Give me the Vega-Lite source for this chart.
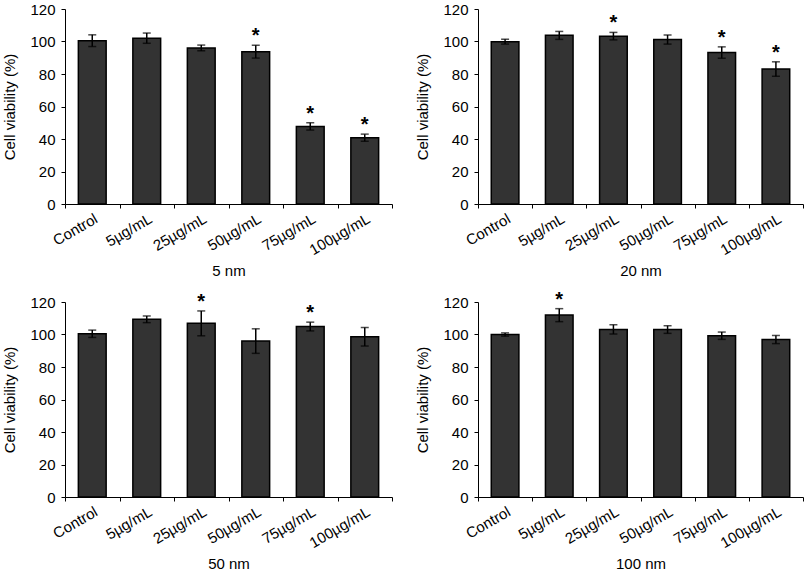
{
  "$schema": "https://vega.github.io/schema/vega-lite/v6.json",
  "background": "white",
  "padding": {"left": 2, "top": 2, "right": 0, "bottom": 0},
  "datasets": {
    "cells": [
      {"panel": "5 nm", "group": "Control", "mean": 100.5, "lo": 96.9, "hi": 104.1, "sig": false},
      {"panel": "5 nm", "group": "5µg/mL", "mean": 102, "lo": 98.9, "hi": 105.2, "sig": false},
      {"panel": "5 nm", "group": "25µg/mL", "mean": 96, "lo": 94.3, "hi": 97.8, "sig": false},
      {"panel": "5 nm", "group": "50µg/mL", "mean": 93.7, "lo": 89.8, "hi": 97.7, "sig": true},
      {"panel": "5 nm", "group": "75µg/mL", "mean": 47.7, "lo": 45.5, "hi": 50, "sig": true},
      {"panel": "5 nm", "group": "100µg/mL", "mean": 40.8, "lo": 38.6, "hi": 43, "sig": true},
      {"panel": "20 nm", "group": "Control", "mean": 99.9, "lo": 98.4, "hi": 101.4, "sig": false},
      {"panel": "20 nm", "group": "5µg/mL", "mean": 103.8, "lo": 101.3, "hi": 106.2, "sig": false},
      {"panel": "20 nm", "group": "25µg/mL", "mean": 103.3, "lo": 101, "hi": 105.6, "sig": true},
      {"panel": "20 nm", "group": "50µg/mL", "mean": 101.2, "lo": 98.4, "hi": 104, "sig": false},
      {"panel": "20 nm", "group": "75µg/mL", "mean": 93.2, "lo": 89.7, "hi": 96.7, "sig": true},
      {"panel": "20 nm", "group": "100µg/mL", "mean": 83.1, "lo": 78.6, "hi": 87.5, "sig": true},
      {"panel": "50 nm", "group": "Control", "mean": 100.4, "lo": 98.2, "hi": 102.7, "sig": false},
      {"panel": "50 nm", "group": "5µg/mL", "mean": 109.4, "lo": 107.3, "hi": 111.4, "sig": false},
      {"panel": "50 nm", "group": "25µg/mL", "mean": 106.9, "lo": 99.2, "hi": 114.5, "sig": true},
      {"panel": "50 nm", "group": "50µg/mL", "mean": 96, "lo": 88.4, "hi": 103.5, "sig": false},
      {"panel": "50 nm", "group": "75µg/mL", "mean": 104.9, "lo": 102.2, "hi": 107.6, "sig": true},
      {"panel": "50 nm", "group": "100µg/mL", "mean": 98.6, "lo": 92.9, "hi": 104.3, "sig": false},
      {"panel": "100 nm", "group": "Control", "mean": 100, "lo": 99, "hi": 101, "sig": false},
      {"panel": "100 nm", "group": "5µg/mL", "mean": 112, "lo": 107.9, "hi": 115.9, "sig": true},
      {"panel": "100 nm", "group": "25µg/mL", "mean": 103.1, "lo": 100.3, "hi": 106, "sig": false},
      {"panel": "100 nm", "group": "50µg/mL", "mean": 103.1, "lo": 100.7, "hi": 105.4, "sig": false},
      {"panel": "100 nm", "group": "75µg/mL", "mean": 99.2, "lo": 97, "hi": 101.5, "sig": false},
      {"panel": "100 nm", "group": "100µg/mL", "mean": 97, "lo": 94.4, "hi": 99.4, "sig": false}
    ]
  },
  "data": {"name": "cells"},
  "columns": 2,
  "spacing": {"column": 22, "row": 10},
  "concat": [
    {
      "width": 327, "height": 195,
      "transform": [{"filter": "datum.panel == '5 nm'"}],
      "encoding": {"x": {"field": "group", "type": "nominal", "sort": ["Control", "5µg/mL", "25µg/mL", "50µg/mL", "75µg/mL", "100µg/mL"], "scale": {"paddingInner": 0, "paddingOuter": 0}, "axis": {"title": "5 nm"}}},
      "layer": [
        {"mark": {"type": "bar", "width": {"band": 0.51}, "fill": "#333333", "stroke": "#000000", "strokeWidth": 1.5}, "encoding": {"y": {"field": "mean", "type": "quantitative", "scale": {"domain": [0, 120]}, "axis": {"title": "Cell viability (%)", "values": [0, 20, 40, 60, 80, 100, 120]}}}},
        {"mark": {"type": "errorbar", "ticks": {"size": 8, "thickness": 1.5, "color": "#000000"}, "thickness": 1.5, "color": "#000000"}, "encoding": {"y": {"field": "lo", "type": "quantitative", "axis": {"title": "Cell viability (%)", "values": [0, 20, 40, 60, 80, 100, 120]}}, "y2": {"field": "hi"}}},
        {"transform": [{"filter": "datum.sig"}], "mark": {"type": "text", "text": "*", "fontSize": 20, "fontWeight": "bold", "baseline": "alphabetic", "dy": -3, "color": "#000000"}, "encoding": {"y": {"field": "hi", "type": "quantitative", "axis": {"title": "Cell viability (%)", "values": [0, 20, 40, 60, 80, 100, 120]}}}}
      ]
    },
    {
      "width": 325, "height": 195,
      "transform": [{"filter": "datum.panel == '20 nm'"}],
      "encoding": {"x": {"field": "group", "type": "nominal", "sort": ["Control", "5µg/mL", "25µg/mL", "50µg/mL", "75µg/mL", "100µg/mL"], "scale": {"paddingInner": 0, "paddingOuter": 0}, "axis": {"title": "20 nm"}}},
      "layer": [
        {"mark": {"type": "bar", "width": {"band": 0.51}, "fill": "#333333", "stroke": "#000000", "strokeWidth": 1.5}, "encoding": {"y": {"field": "mean", "type": "quantitative", "scale": {"domain": [0, 120]}, "axis": {"title": "Cell viability (%)", "values": [0, 20, 40, 60, 80, 100, 120]}}}},
        {"mark": {"type": "errorbar", "ticks": {"size": 8, "thickness": 1.5, "color": "#000000"}, "thickness": 1.5, "color": "#000000"}, "encoding": {"y": {"field": "lo", "type": "quantitative", "axis": {"title": "Cell viability (%)", "values": [0, 20, 40, 60, 80, 100, 120]}}, "y2": {"field": "hi"}}},
        {"transform": [{"filter": "datum.sig"}], "mark": {"type": "text", "text": "*", "fontSize": 20, "fontWeight": "bold", "baseline": "alphabetic", "dy": -3, "color": "#000000"}, "encoding": {"y": {"field": "hi", "type": "quantitative", "axis": {"title": "Cell viability (%)", "values": [0, 20, 40, 60, 80, 100, 120]}}}}
      ]
    },
    {
      "width": 327, "height": 195,
      "transform": [{"filter": "datum.panel == '50 nm'"}],
      "encoding": {"x": {"field": "group", "type": "nominal", "sort": ["Control", "5µg/mL", "25µg/mL", "50µg/mL", "75µg/mL", "100µg/mL"], "scale": {"paddingInner": 0, "paddingOuter": 0}, "axis": {"title": "50 nm"}}},
      "layer": [
        {"mark": {"type": "bar", "width": {"band": 0.51}, "fill": "#333333", "stroke": "#000000", "strokeWidth": 1.5}, "encoding": {"y": {"field": "mean", "type": "quantitative", "scale": {"domain": [0, 120]}, "axis": {"title": "Cell viability (%)", "values": [0, 20, 40, 60, 80, 100, 120]}}}},
        {"mark": {"type": "errorbar", "ticks": {"size": 8, "thickness": 1.5, "color": "#000000"}, "thickness": 1.5, "color": "#000000"}, "encoding": {"y": {"field": "lo", "type": "quantitative", "axis": {"title": "Cell viability (%)", "values": [0, 20, 40, 60, 80, 100, 120]}}, "y2": {"field": "hi"}}},
        {"transform": [{"filter": "datum.sig"}], "mark": {"type": "text", "text": "*", "fontSize": 20, "fontWeight": "bold", "baseline": "alphabetic", "dy": -3, "color": "#000000"}, "encoding": {"y": {"field": "hi", "type": "quantitative", "axis": {"title": "Cell viability (%)", "values": [0, 20, 40, 60, 80, 100, 120]}}}}
      ]
    },
    {
      "width": 325, "height": 195,
      "transform": [{"filter": "datum.panel == '100 nm'"}],
      "encoding": {"x": {"field": "group", "type": "nominal", "sort": ["Control", "5µg/mL", "25µg/mL", "50µg/mL", "75µg/mL", "100µg/mL"], "scale": {"paddingInner": 0, "paddingOuter": 0}, "axis": {"title": "100 nm"}}},
      "layer": [
        {"mark": {"type": "bar", "width": {"band": 0.51}, "fill": "#333333", "stroke": "#000000", "strokeWidth": 1.5}, "encoding": {"y": {"field": "mean", "type": "quantitative", "scale": {"domain": [0, 120]}, "axis": {"title": "Cell viability (%)", "values": [0, 20, 40, 60, 80, 100, 120]}}}},
        {"mark": {"type": "errorbar", "ticks": {"size": 8, "thickness": 1.5, "color": "#000000"}, "thickness": 1.5, "color": "#000000"}, "encoding": {"y": {"field": "lo", "type": "quantitative", "axis": {"title": "Cell viability (%)", "values": [0, 20, 40, 60, 80, 100, 120]}}, "y2": {"field": "hi"}}},
        {"transform": [{"filter": "datum.sig"}], "mark": {"type": "text", "text": "*", "fontSize": 20, "fontWeight": "bold", "baseline": "alphabetic", "dy": -3, "color": "#000000"}, "encoding": {"y": {"field": "hi", "type": "quantitative", "axis": {"title": "Cell viability (%)", "values": [0, 20, 40, 60, 80, 100, 120]}}}}
      ]
    }
  ],
  "config": {
    "font": "Liberation Sans",
    "view": {"stroke": null},
    "axis": {
      "domainColor": "#000000", "domainWidth": 1, "tickColor": "#000000", "tickWidth": 1, "tickSize": 4,
      "labelColor": "#000000", "titleColor": "#000000", "labelFont": "Liberation Sans", "titleFont": "Liberation Sans",
      "titleFontWeight": "normal", "grid": false
    },
    "axisY": {"labelFontSize": 15, "titleFontSize": 15, "labelPadding": 6, "titlePadding": 12},
    "axisX": {"labelFontSize": 15, "titleFontSize": 15, "labelAngle": -30, "labelPadding": 3, "titlePadding": 6, "tickBand": "extent"}
  }
}
